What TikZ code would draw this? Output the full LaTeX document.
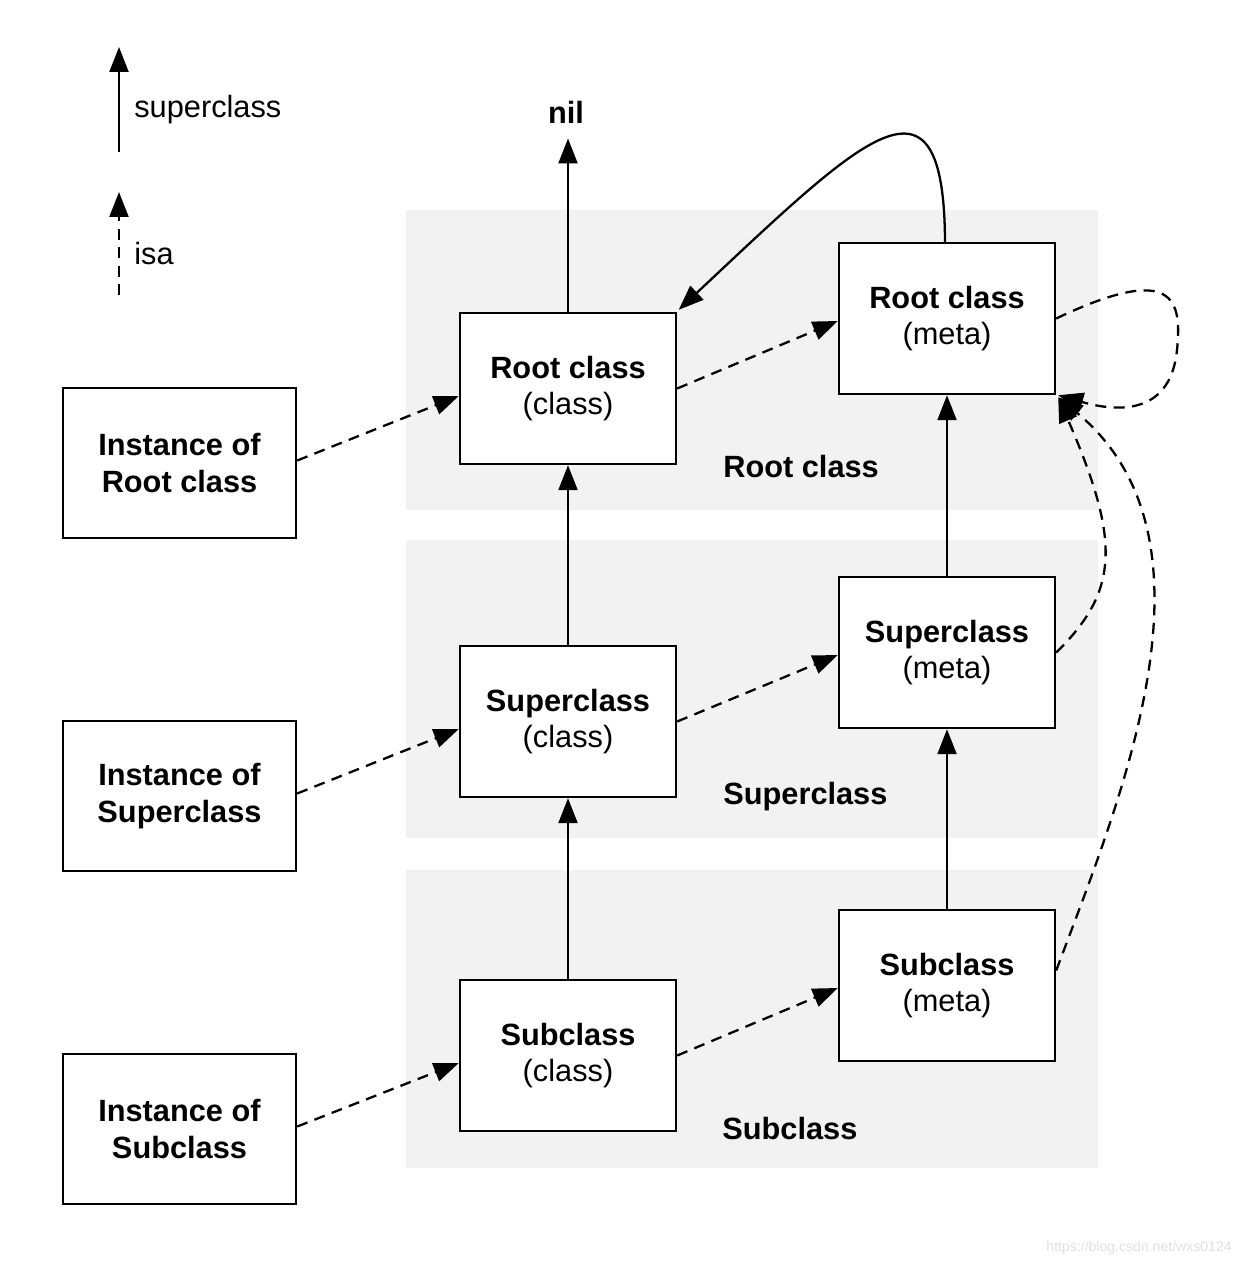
\documentclass[tikz,border=0pt]{standalone}
\usepackage{fontspec}
\setmainfont{Liberation Sans}
\usetikzlibrary{arrows.meta}
\definecolor{band}{HTML}{F2F2F2}
\tikzset{
  box/.style={draw, line width=1.4pt, fill=white, minimum width=4.32cm, minimum height=3.02cm, align=center, inner sep=0pt, font=\fontsize{17.5}{21}\selectfont},
  ibox/.style={box, minimum width=4.66cm, minimum height=3.0cm},
  bandlbl/.style={anchor=west, font=\fontsize{17.5}{21}\selectfont\bfseries, inner sep=0pt},
  sup/.style={line width=1.3pt, -{Triangle[length=0.5cm,width=0.38cm]}},
  isa/.style={line width=1.3pt, dash pattern=on 0.22cm off 0.15cm, -{Triangle[length=0.5cm,width=0.38cm]}},
  band/.style={fill=band, draw=none}
}
\begin{document}
\begin{tikzpicture}[x=0.02cm, y=-0.02cm]
\useasboundingbox (0,0) rectangle (1242,1266);
% bands
\fill[band] (406,210) rectangle (1098,510);
\fill[band] (406,540) rectangle (1098,838);
\fill[band] (406,870) rectangle (1098,1168);
% legend
\coordinate (l1a) at (119,152);
\coordinate (l1b) at (119,47);
\coordinate (l2a) at (119,295);
\coordinate (l2b) at (119,192);
\draw[sup] (l1a) -- (l1b);
\draw[isa] (l2a) -- (l2b);
\node[anchor=west, inner sep=0pt, font=\fontsize{17.5}{21}\selectfont] (lsup) at (134,110) {superclass};
\node[anchor=west, inner sep=0pt, font=\fontsize{17.5}{21}\selectfont] (lisa) at (134,254) {isa};
% boxes
\node[box] (rc) at (568,388.5) {\textbf{Root class}\\(class)};
\node[box] (rm) at (947,318.5) {\textbf{Root class}\\(meta)};
\node[box] (sc) at (568,721.5) {\textbf{Superclass}\\(class)};
\node[box] (sm) at (947,652.5) {\textbf{Superclass}\\(meta)};
\node[box] (bc) at (568,1055.5) {\textbf{Subclass}\\(class)};
\node[box] (bm) at (947,985.5) {\textbf{Subclass}\\(meta)};
\node[ibox] (ir) at (179.5,463) {\textbf{Instance of}\\\textbf{Root class}};
\node[ibox] (is) at (179.5,796) {\textbf{Instance of}\\\textbf{Superclass}};
\node[ibox] (ib) at (179.5,1129) {\textbf{Instance of}\\\textbf{Subclass}};
% band labels
\node[bandlbl] (lr) at (723,467) {Root class};
\node[bandlbl] (ls) at (723,797) {Superclass};
\node[bandlbl] (lb) at (722,1128) {Subclass};
% nil
\node[inner sep=0pt, font=\fontsize{17.5}{21}\selectfont\bfseries] (nil) at (566,112) {nil};
% superclass arrows
\draw[sup] (rc.north) -- ([yshift=-0.3cm]rc.north |- nil.south);
\draw[sup] (sc.north) -- (rc.south);
\draw[sup] (bc.north) -- (sc.south);
\draw[sup] (sm.north) -- (rm.south);
\draw[sup] (bm.north) -- (sm.south);
\draw[sup] ([xshift=-0.04cm]rm.north) .. controls (944,55) and (865,135) .. ([xshift=0.03cm,yshift=0.04cm]rc.north east);
% isa arrows
\draw[isa] ([yshift=0.05cm]ir.east) -- ([yshift=-0.15cm]rc.west);
\draw[isa] ([yshift=0.05cm]is.east) -- ([yshift=-0.15cm]sc.west);
\draw[isa] ([yshift=0.05cm]ib.east) -- ([yshift=-0.15cm]bc.west);
\draw[isa] (rc.east) -- ([yshift=-0.05cm]rm.west);
\draw[isa] (sc.east) -- ([yshift=-0.05cm]sm.west);
\draw[isa] (bc.east) -- ([yshift=-0.05cm]bm.west);
\draw[isa] (rm.east) .. controls (1175,262) and (1182,300) .. (1177,350) .. controls (1170,420) and (1110,410) .. ([xshift=0.04cm]rm.south east);
\draw[isa] (sm.east) .. controls (1120,590) and (1120,540) .. ([xshift=0.04cm,yshift=-0.04cm]rm.south east);
\draw[isa] ([yshift=0.3cm]bm.east) .. controls (1120,800) and (1230,540) .. ([xshift=0.04cm,yshift=-0.04cm]rm.south east);
% watermark
\node[anchor=east, inner sep=0pt, text=black!12, font=\fontsize{8}{10}\selectfont] (wm) at (1232,1248) {https://blog.csdn.net/wxs0124};
\end{tikzpicture}
\end{document}
